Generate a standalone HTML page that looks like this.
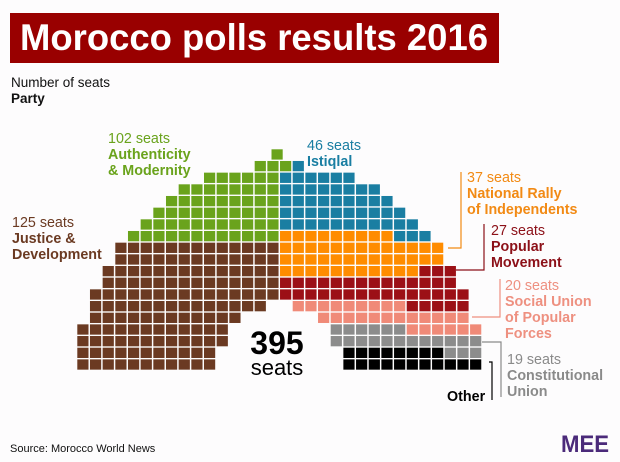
<!DOCTYPE html>
<html><head><meta charset="utf-8">
<style>
html,body{margin:0;padding:0;background:#fdfcfd;}
svg{display:block;font-family:"Liberation Sans",sans-serif;}
</style></head><body>
<svg id="s" width="620" height="462" viewBox="0 0 620 462" xmlns="http://www.w3.org/2000/svg">
<rect width="620" height="462" fill="#fdfcfd"/>
<rect x="10" y="13" width="489" height="50" fill="#990000"/>
<text x="20" y="50" fill="#fff" font-size="37" font-weight="bold" textLength="468" lengthAdjust="spacingAndGlyphs">Morocco polls results 2016</text>
<text x="11" y="87" font-size="13.5" fill="#111">Number of seats</text>
<text x="11" y="103" font-size="13.5" font-weight="bold" fill="#111">Party</text>
<g id="cells"></g>
<g font-size="14.3">
<text x="108" y="143" fill="#6aa31c">102 seats</text>
<text x="108" y="159" fill="#6aa31c" font-weight="bold">Authenticity</text>
<text x="108" y="175" fill="#6aa31c" font-weight="bold">&amp; Modernity</text>
<text x="307" y="150" fill="#1a7ea2">46 seats</text>
<text x="307" y="166" fill="#1a7ea2" font-weight="bold">Istiqlal</text>
<text x="467" y="182" fill="#f28a14">37 seats</text>
<text x="467" y="198" fill="#f28a14" font-weight="bold">National Rally</text>
<text x="467" y="214" fill="#f28a14" font-weight="bold">of Independents</text>
<text x="491" y="235" fill="#8c1018">27 seats</text>
<text x="491" y="251" fill="#8c1018" font-weight="bold">Popular</text>
<text x="491" y="267" fill="#8c1018" font-weight="bold">Movement</text>
<text x="505" y="290" fill="#ee9080">20 seats</text>
<text x="505" y="306" fill="#ee9080" font-weight="bold">Social Union</text>
<text x="505" y="322" fill="#ee9080" font-weight="bold">of Popular</text>
<text x="505" y="338" fill="#ee9080" font-weight="bold">Forces</text>
<text x="507" y="364" fill="#8a8a8a">19 seats</text>
<text x="507" y="380" fill="#8a8a8a" font-weight="bold">Constitutional</text>
<text x="507" y="396" fill="#8a8a8a" font-weight="bold">Union</text>
<text x="447" y="401" fill="#000" font-weight="bold">Other</text>
<text x="12" y="227" fill="#6b3a22">125 seats</text>
<text x="12" y="243" fill="#6b3a22" font-weight="bold">Justice &amp;</text>
<text x="12" y="259" fill="#6b3a22" font-weight="bold">Development</text>
</g>
<g fill="none" stroke-width="1.2">
<polyline points="461,172 461,248 448,248" stroke="#f28a14"/>
<polyline points="484,224 484,270 456,270" stroke="#8c1018"/>
<polyline points="500,279 500,317 472,317" stroke="#ee9080"/>
<polyline points="482,342 501,342 501,397" stroke="#8a8a8a"/>
<polyline points="489,362 492,362 492,400" stroke="#000"/>
</g>
<text x="277" y="354" text-anchor="middle" font-size="32" font-weight="bold" fill="#000">395</text>
<text x="277" y="375" text-anchor="middle" font-size="22" fill="#000">seats</text>
<text x="10" y="452" font-size="11" fill="#111">Source: Morocco World News</text>
<text x="561" y="452" font-size="24" font-weight="bold" fill="#4b2a7a" textLength="48" lengthAdjust="spacingAndGlyphs">MEE</text>
</svg>
<script>
var G='#6aa31c',T='#1a7ea2',O='#ff8c00',R='#9c1016',S='#f08a78',Y='#8c8c8c',K='#000',B='#6b3a22';
var rows=[
[],
[[14,16,G],[17,17,T]],
[[10,15,G],[16,21,T]],
[[8,15,G],[16,23,T]],
[[7,15,G],[16,24,T]],
[[6,15,G],[16,25,T]],
[[5,15,G],[16,26,T]],
[[4,15,G],[16,24,O],[25,27,T]],
[[3,15,B],[16,28,O]],
[[3,15,B],[16,28,O]],
[[2,15,B],[16,26,O],[27,29,R]],
[[2,15,B],[16,29,R]],
[[1,15,B],[16,30,R]],
[[1,14,B],[17,25,S],[26,30,R]],
[[1,12,B],[19,30,S]],
[[0,11,B],[20,25,Y],[26,31,S]],
[[0,11,B],[20,31,Y]],
[[0,10,B],[21,28,K],[29,31,Y]],
[[0,10,B],[21,31,K]]
];
var ns='http://www.w3.org/2000/svg',g=document.getElementById('cells');
function add(x,y,c){var r=document.createElementNS(ns,'rect');r.setAttribute('x',x);r.setAttribute('y',y);r.setAttribute('width',11.2);r.setAttribute('height',10.3);r.setAttribute('fill',c);g.appendChild(r);}
add(271.5,149.3,G);
rows.forEach(function(row,r){row.forEach(function(s){for(var c=s[0];c<=s[1];c++)add(77.3+12.67*c,149.3+11.67*r,s[2]);});});
</script>
</body></html>
